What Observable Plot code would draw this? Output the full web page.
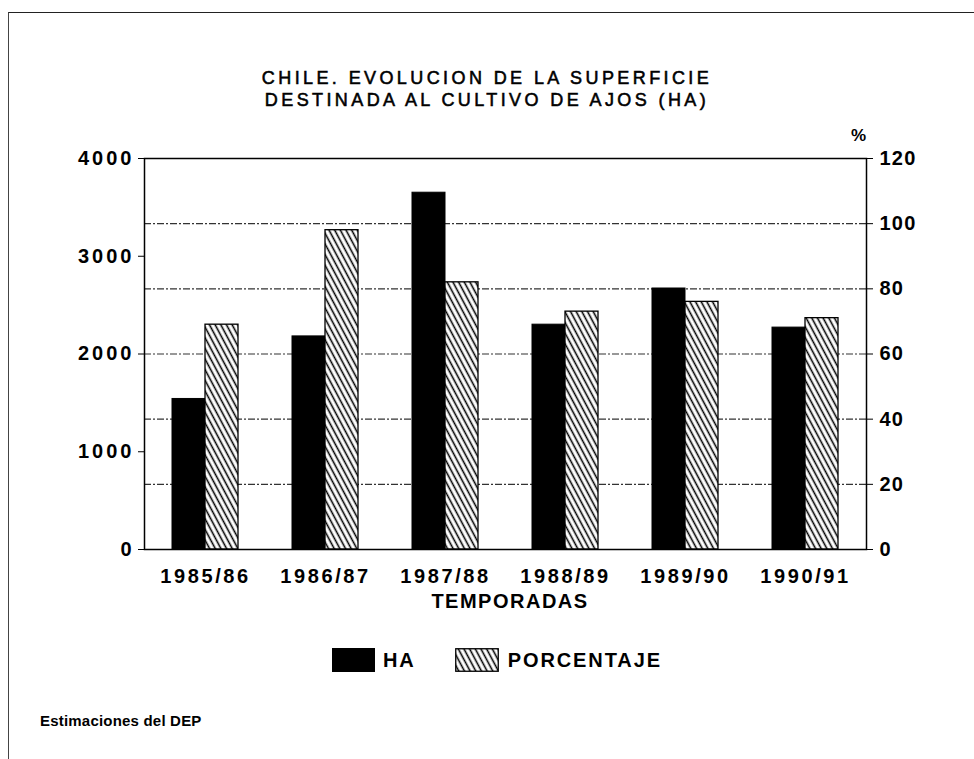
<!DOCTYPE html>
<html>
<head>
<meta charset="utf-8">
<script src="https://cdn.jsdelivr.net/npm/d3@7"></script>
<script src="https://cdn.jsdelivr.net/npm/@observablehq/plot@0.6"></script>
<style>
  html, body { margin: 0; padding: 0; background: #fff; }
  #wrap { position: relative; width: 974px; height: 759px; overflow: hidden; font-family: "Liberation Sans", Arial, sans-serif; color: #000; }
  #wrap > svg { position: absolute; left: 0; top: 0; }
  #wrap g[aria-label="x-axis tick label"] text { letter-spacing: 2.6px; }
  #wrap g[aria-label="y-axis tick label"] text { letter-spacing: 3px; }
  #wrap g.right-ticks text { letter-spacing: 1.2px; }
  .border { position: absolute; left: 8px; top: 12px; right: -2px; bottom: -2px; border-top: 1.5px solid #222; border-left: 1px solid #444; }
  .title { position: absolute; left: 0; width: 974px; top: 67px; text-align: center; font-size: 18px; line-height: 22px; letter-spacing: 3.4px; font-weight: normal; -webkit-text-stroke: 0.55px #000; }
  .pct { position: absolute; left: 851px; top: 126px; font-size: 17px; font-weight: bold; }
  .xlabel { position: absolute; left: 430px; width: 160px; top: 590px; text-align: center; font-size: 20px; font-weight: bold; letter-spacing: 1.5px; line-height: 22px; }
  .legend { position: absolute; top: 648px; left: 332px; height: 24px; display: flex; align-items: center; font-size: 20px; font-weight: bold; letter-spacing: 1.9px; }
  .sw { width: 43px; height: 24px; display: inline-block; }
  .caption { position: absolute; left: 40px; top: 712px; font-size: 15px; font-weight: bold; letter-spacing: 0.2px; }
</style>
</head>
<body>
<div id="wrap">
  <div class="border"></div>
</div>
<script>
// ---- data ----
const seasons = ["1985/86", "1986/87", "1987/88", "1988/89", "1989/90", "1990/91"];
const haValues = [1540, 2180, 3650, 2300, 2670, 2270];
const pctValues = [69, 98, 82, 73, 76, 71];
const haTicks = [0, 1000, 2000, 3000, 4000];
const pctTicks = [0, 20, 40, 60, 80, 100, 120];
const titleLines = ["CHILE. EVOLUCION DE LA SUPERFICIE", "DESTINADA AL CULTIVO DE AJOS (HA)"];
const seriesNames = ["HA", "PORCENTAJE"];
const xTitle = "TEMPORADAS";
const captionText = "Estimaciones del DEP";

// secondary axis mapping: 0–120 % shares the 0–4000 HA range
const haMax = 4000, pctMax = 120;
const toHa = p => p * haMax / pctMax;

const haData = seasons.map((s, i) => ({season: s, value: haValues[i]}));
const pctData = seasons.map((s, i) => ({season: s, value: toHa(pctValues[i])}));
const gridData = pctTicks.filter(t => t > 0 && t < pctMax).map(toHa);

const font = "Liberation Sans, Arial, sans-serif";

function hatchDefs() {
  const ns = "http://www.w3.org/2000/svg";
  const defs = document.createElementNS(ns, "defs");
  const pat = document.createElementNS(ns, "pattern");
  pat.setAttribute("id", "hatch");
  pat.setAttribute("patternUnits", "userSpaceOnUse");
  pat.setAttribute("width", "5");
  pat.setAttribute("height", "5");
  pat.setAttribute("patternTransform", "rotate(-28)");
  const bg = document.createElementNS(ns, "rect");
  bg.setAttribute("width", "5"); bg.setAttribute("height", "5"); bg.setAttribute("fill", "#fff");
  const ln = document.createElementNS(ns, "line");
  ln.setAttribute("x1", "2.5"); ln.setAttribute("y1", "-1");
  ln.setAttribute("x2", "2.5"); ln.setAttribute("y2", "6");
  ln.setAttribute("stroke", "#000"); ln.setAttribute("stroke-width", "1.6");
  pat.appendChild(bg); pat.appendChild(ln);
  defs.appendChild(pat);
  return defs;
}

const chart = Plot.plot({
  width: 974,
  height: 759,
  marginLeft: 144,
  marginRight: 108,
  marginTop: 158,
  marginBottom: 210,
  style: {fontFamily: font, background: "transparent", overflow: "visible"},
  x: {domain: seasons, padding: 0},
  y: {domain: [0, haMax]},
  marks: [
    hatchDefs,
    Plot.ruleY(gridData, {stroke: "#333", strokeWidth: 1.1, strokeDasharray: "7,2,2,2"}),
    Plot.barY(haData, {x: "season", y: "value", fill: "#000", stroke: "#000", strokeWidth: 1, insetLeft: 27, insetRight: 60}),
    Plot.barY(pctData, {x: "season", y: "value", fill: "url(#hatch)", stroke: "#000", strokeWidth: 1.3, insetLeft: 60, insetRight: 27}),
    Plot.frame({stroke: "#000", strokeWidth: 1.5}),
    Plot.axisX({tickSize: 0, tickPadding: 19, label: null, fontSize: 20, fontWeight: "bold"}),
    Plot.axisY({anchor: "left", ticks: haTicks, tickSize: 6, tickPadding: 4, label: null, fontSize: 20, fontWeight: "bold", tickFormat: d => String(d)}),
    Plot.axisY({anchor: "right", ticks: pctTicks.map(toHa), tickSize: 6, tickPadding: 7, label: null, fontSize: 20, fontWeight: "bold", tickFormat: d => String(Math.round(d * pctMax / haMax))})
  ]
});

// tag the right-hand tick labels so they can get their own spacing
const yLabelGroups = chart.querySelectorAll('g[aria-label="y-axis tick label"]');
if (yLabelGroups.length > 1) yLabelGroups[yLabelGroups.length - 1].classList.add("right-ticks");

const wrap = document.getElementById("wrap");
wrap.appendChild(chart);

function addDiv(cls, html) {
  const d = document.createElement("div");
  d.className = cls;
  d.innerHTML = html;
  wrap.appendChild(d);
  return d;
}
addDiv("title", titleLines.join("<br>"));
addDiv("pct", "%");
addDiv("xlabel", xTitle);
const leg = addDiv("legend", "");
leg.innerHTML =
  `<span class="sw" style="background:#000"></span><span style="margin-left:8px">${seriesNames[0]}</span>` +
  `<svg width="44" height="24" style="position:static;margin-left:39px"><rect x="0.75" y="0.75" width="42.5" height="22.5" fill="url(#hatch)" stroke="#000" stroke-width="1.3"/></svg>` +
  `<span style="margin-left:9px">${seriesNames[1]}</span>`;
addDiv("caption", captionText);
</script>
</body>
</html>
